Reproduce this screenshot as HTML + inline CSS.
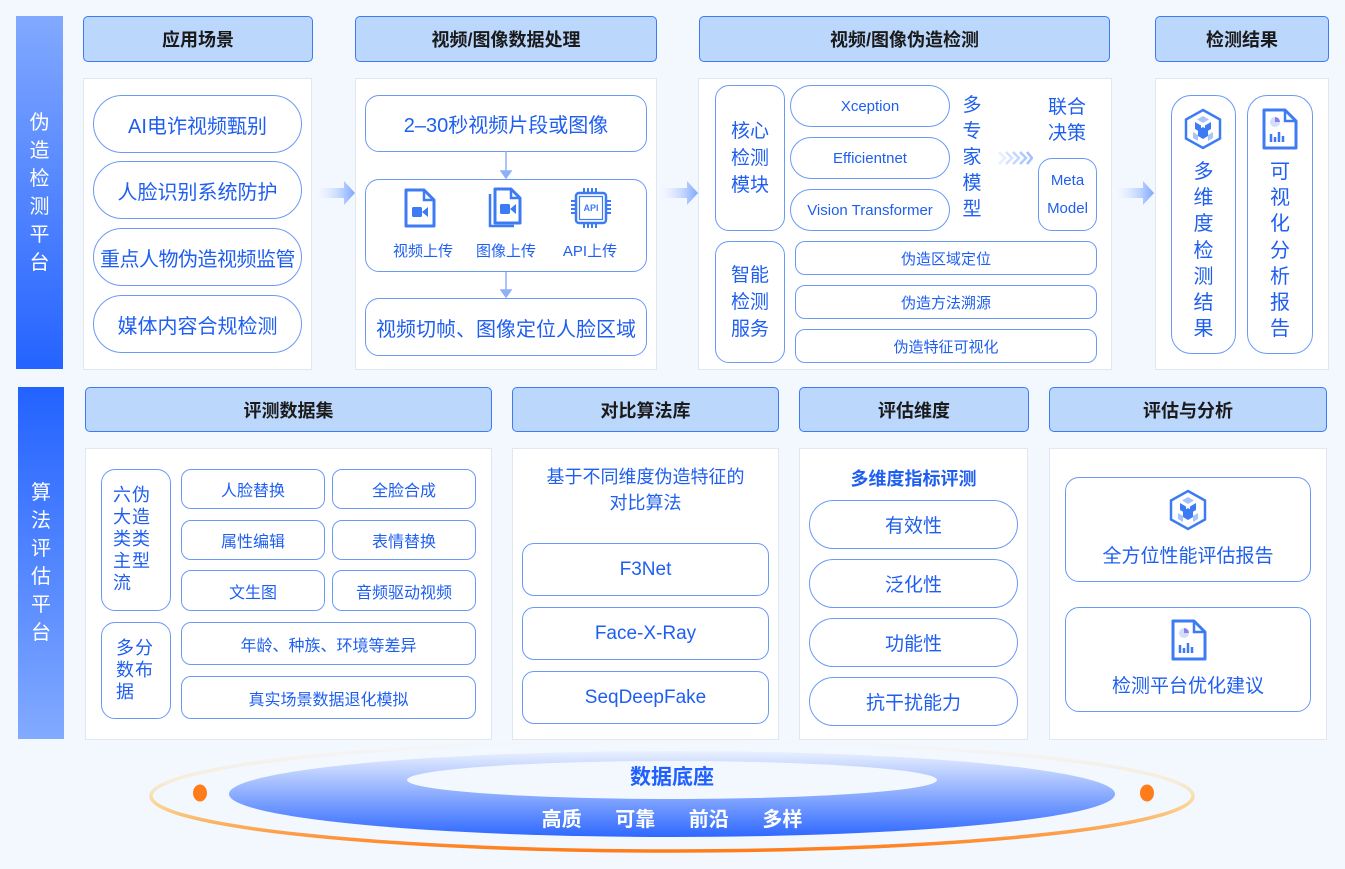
<!DOCTYPE html>
<html><head><meta charset="utf-8"><style>
body{margin:0;width:1345px;height:869px;background:#f3f7fe;position:relative;overflow:hidden;font-family:"Liberation Sans","Noto Sans CJK SC",sans-serif}
.a{position:absolute;box-sizing:border-box}
.c{display:flex;align-items:center;justify-content:center;text-align:center}
.h{background:#bcd7fc;border:1.5px solid #3d7bf5;border-radius:5px;font-weight:bold;font-size:18px;color:#1a1a1a}
.p{background:#fff;border:1px solid #e1e7f0}
.o{border:1.3px solid #6b9af5;color:#1f5ff0;background:#fff}
.vb{color:#fff;font-size:20px;line-height:28px;text-align:center}
</style></head><body>

<!-- left bars -->
<div class="a c" style="left:16px;top:16px;width:47px;height:353px;background:linear-gradient(#82a9ff,#2463ff)"><div class="vb">伪<br>造<br>检<br>测<br>平<br>台</div></div>
<div class="a c" style="left:18px;top:387px;width:46px;height:352px;background:linear-gradient(#2262ff,#82aaff)"><div class="vb">算<br>法<br>评<br>估<br>平<br>台</div></div>

<!-- top headers -->
<div class="a c h" style="left:83px;top:16px;width:230px;height:46px">应用场景</div>
<div class="a c h" style="left:355px;top:16px;width:302px;height:46px">视频/图像数据处理</div>
<div class="a c h" style="left:699px;top:16px;width:411px;height:46px">视频/图像伪造检测</div>
<div class="a c h" style="left:1155px;top:16px;width:174px;height:46px">检测结果</div>

<!-- top panels -->
<div class="a p" style="left:83px;top:78px;width:229px;height:292px"></div>
<div class="a p" style="left:355px;top:78px;width:302px;height:292px"></div>
<div class="a p" style="left:698px;top:78px;width:414px;height:292px"></div>
<div class="a p" style="left:1155px;top:78px;width:174px;height:292px"></div>

<!-- panel 1 -->
<div class="a c o" style="left:93px;top:95px;width:209px;height:58px;border-radius:29px;font-size:20px">AI电诈视频甄别</div>
<div class="a c o" style="left:93px;top:161px;width:209px;height:58px;border-radius:29px;font-size:20px">人脸识别系统防护</div>
<div class="a c o" style="left:93px;top:228px;width:209px;height:58px;border-radius:29px;font-size:20px;letter-spacing:-0.5px">重点人物伪造视频监管</div>
<div class="a c o" style="left:93px;top:295px;width:209px;height:58px;border-radius:29px;font-size:20px">媒体内容合规检测</div>

<!-- arrows between panels -->
<svg class="a" style="left:318px;top:180px" width="38" height="26"><defs><linearGradient id="ag" x1="0" x2="1"><stop offset="0" stop-color="#cfe0ff" stop-opacity="0"/><stop offset="1" stop-color="#7da6ff"/></linearGradient></defs><path d="M0 8h26V1l11 12-11 12v-7H0z" fill="url(#ag)"/></svg>
<svg class="a" style="left:661px;top:180px" width="38" height="26"><path d="M0 8h26V1l11 12-11 12v-7H0z" fill="url(#ag)"/></svg>
<svg class="a" style="left:1117px;top:180px" width="38" height="26"><path d="M0 8h26V1l11 12-11 12v-7H0z" fill="url(#ag)"/></svg>

<!-- panel 2 -->
<div class="a c o" style="left:365px;top:95px;width:282px;height:57px;border-radius:14px;font-size:20px">2–30秒视频片段或图像</div>
<svg class="a" style="left:500px;top:151px" width="12" height="148"><path d="M6 0v22M1 20l5 7 5-7z" stroke="#8db0f8" fill="#8db0f8" stroke-width="1.5"/><path d="M6 120v22M1 139l5 7 5-7z" stroke="#8db0f8" fill="#8db0f8" stroke-width="1.5"/></svg>
<div class="a o" style="left:365px;top:179px;width:282px;height:93px;border-radius:14px"></div>
<svg class="a" style="left:404px;top:188px" width="34" height="40"><path d="M2 2h18l10 10v26H2z" fill="#fff" stroke="#3d7bf5" stroke-width="3" stroke-linejoin="round"/><path d="M20 2v10h10" fill="none" stroke="#3d7bf5" stroke-width="2.5"/><rect x="8" y="19" width="10" height="10" rx="1.5" fill="#3d7bf5"/><path d="M18 24l6-5v10z" fill="#3d7bf5"/></svg>
<svg class="a" style="left:488px;top:187px" width="36" height="42"><path d="M2 7v32h24" fill="none" stroke="#3d7bf5" stroke-width="2.5"/><path d="M7 2h16l9 9v25H7z" fill="#fff" stroke="#3d7bf5" stroke-width="3" stroke-linejoin="round"/><path d="M23 2v9h9" fill="none" stroke="#3d7bf5" stroke-width="2.5"/><rect x="12" y="17" width="10" height="10" rx="1.5" fill="#3d7bf5"/><path d="M22 22l6-5v10z" fill="#3d7bf5"/></svg>
<svg class="a" style="left:570px;top:187px" width="42" height="42"><g stroke="#3d7bf5" stroke-width="2"><path d="M14 1v6M18 1v6M22 1v6M26 1v6M14 35v6M18 35v6M22 35v6M26 35v6M1 14h6M1 18h6M1 22h6M1 26h6M35 14h6M35 18h6M35 22h6M35 26h6"/></g><rect x="6" y="6" width="30" height="30" rx="3" fill="#fff" stroke="#3d7bf5" stroke-width="2.5"/><rect x="9.5" y="9.5" width="23" height="23" fill="none" stroke="#3d7bf5" stroke-width="1.2"/><text x="21" y="24" font-size="9" font-weight="bold" fill="#3d7bf5" text-anchor="middle" font-family="Liberation Sans">API</text></svg>
<div class="a" style="left:385px;top:240px;width:76px;text-align:center;font-size:15px;color:#1f5ff0">视频上传</div>
<div class="a" style="left:468px;top:240px;width:76px;text-align:center;font-size:15px;color:#1f5ff0">图像上传</div>
<div class="a" style="left:552px;top:240px;width:76px;text-align:center;font-size:15px;color:#1f5ff0">API上传</div>
<div class="a c o" style="left:365px;top:298px;width:282px;height:58px;border-radius:14px;font-size:20px">视频切帧、图像定位人脸区域</div>

<!-- panel 3 -->
<div class="a c o" style="left:715px;top:85px;width:70px;height:146px;border-radius:14px;font-size:19px;line-height:27px">核心<br>检测<br>模块</div>
<div class="a c o" style="left:790px;top:85px;width:160px;height:42px;border-radius:21px;font-size:15px">Xception</div>
<div class="a c o" style="left:790px;top:137px;width:160px;height:42px;border-radius:21px;font-size:15px">Efficientnet</div>
<div class="a c o" style="left:790px;top:189px;width:160px;height:42px;border-radius:21px;font-size:15px">Vision Transformer</div>
<div class="a" style="left:960px;top:93px;width:24px;font-size:19px;line-height:26px;color:#1f5ff0;text-align:center">多<br>专<br>家<br>模<br>型</div>
<svg class="a" style="left:997px;top:150px" width="36" height="16"><g fill="none" stroke-width="2.5"><path d="M2 2l6 6-6 6" stroke="#e6eeff"/><path d="M9 2l6 6-6 6" stroke="#d4e2ff"/><path d="M16 2l6 6-6 6" stroke="#c2d6fe"/><path d="M23 2l6 6-6 6" stroke="#b0cafd"/><path d="M30 2l5 6-5 6" stroke="#a2c0fc"/></g></svg>
<div class="a" style="left:1040px;top:95px;width:54px;font-size:19px;line-height:26px;color:#1f5ff0;text-align:center">联合<br>决策</div>
<div class="a c o" style="left:1038px;top:158px;width:59px;height:73px;border-radius:14px;font-size:15px;line-height:28px">Meta<br>Model</div>
<div class="a c o" style="left:715px;top:241px;width:70px;height:122px;border-radius:14px;font-size:19px;line-height:27px">智能<br>检测<br>服务</div>
<div class="a c o" style="left:795px;top:241px;width:302px;height:34px;border-radius:10px;font-size:15px">伪造区域定位</div>
<div class="a c o" style="left:795px;top:285px;width:302px;height:34px;border-radius:10px;font-size:15px">伪造方法溯源</div>
<div class="a c o" style="left:795px;top:329px;width:302px;height:34px;border-radius:10px;font-size:15px">伪造特征可视化</div>

<!-- panel 4 -->
<div class="a o" style="left:1171px;top:95px;width:65px;height:259px;border-radius:20px"></div>
<div class="a o" style="left:1247px;top:95px;width:66px;height:259px;border-radius:20px"></div>
<svg class="a" style="left:1183px;top:108px" width="40" height="42"><path d="M20 2l17 9.5v19L20 40 3 30.5v-19z" fill="#fff" stroke="#3d7bf5" stroke-width="2.5"/><path d="M20 8l6 3.5-6 3.5-6-3.5z" fill="#a9c4fb"/><path d="M12 14l6 3.5v7l-6-3.5z M28 14l-6 3.5v7l6-3.5z" fill="#3d7bf5"/><path d="M20 19l5 3v6l-5 3-5-3v-6z" fill="#3d7bf5"/><path d="M10 24l5 3v6l-5-3z M30 24l-5 3v6l5-3z" fill="#a9c4fb"/></svg>
<svg class="a" style="left:1262px;top:108px" width="36" height="42"><path d="M2 2h21l11 11v27H2z" fill="#fff" stroke="#3d7bf5" stroke-width="3" stroke-linejoin="round"/><path d="M23 2v11h11" fill="none" stroke="#3d7bf5" stroke-width="2.5"/><circle cx="13" cy="14" r="5" fill="#d3defc"/><path d="M13 14v-5a5 5 0 0 1 5 5z" fill="#8a7ff0"/><path d="M9 26v8M13 29v5M17 24v10M21 28v6" stroke="#3d7bf5" stroke-width="2.5"/></svg>
<div class="a" style="left:1171px;top:159px;width:65px;text-align:center;font-size:20px;line-height:26.2px;color:#1f5ff0">多<br>维<br>度<br>检<br>测<br>结<br>果</div>
<div class="a" style="left:1247px;top:159px;width:66px;text-align:center;font-size:20px;line-height:26.2px;color:#1f5ff0">可<br>视<br>化<br>分<br>析<br>报<br>告</div>

<!-- bottom headers -->
<div class="a c h" style="left:85px;top:387px;width:407px;height:45px">评测数据集</div>
<div class="a c h" style="left:512px;top:387px;width:267px;height:45px">对比算法库</div>
<div class="a c h" style="left:799px;top:387px;width:230px;height:45px">评估维度</div>
<div class="a c h" style="left:1049px;top:387px;width:278px;height:45px">评估与分析</div>

<div class="a p" style="left:85px;top:448px;width:407px;height:292px"></div>
<div class="a p" style="left:512px;top:448px;width:267px;height:292px"></div>
<div class="a p" style="left:799px;top:448px;width:229px;height:292px"></div>
<div class="a p" style="left:1049px;top:448px;width:278px;height:292px"></div>

<!-- bottom panel 1 -->
<div class="a o" style="left:101px;top:469px;width:70px;height:142px;border-radius:14px"></div>
<div class="a" style="left:113px;top:484px;width:50px;font-size:18px;line-height:22px;color:#1f5ff0;letter-spacing:1px">六伪<br>大造<br>类类<br>主型<br>流</div>
<div class="a o" style="left:101px;top:622px;width:70px;height:97px;border-radius:14px"></div>
<div class="a" style="left:116px;top:637px;width:50px;font-size:18px;line-height:22px;color:#1f5ff0;letter-spacing:1px">多分<br>数布<br>据</div>
<div class="a c o" style="left:181px;top:469px;width:144px;height:40px;border-radius:10px;font-size:16px">人脸替换</div>
<div class="a c o" style="left:332px;top:469px;width:144px;height:40px;border-radius:10px;font-size:16px">全脸合成</div>
<div class="a c o" style="left:181px;top:520px;width:144px;height:40px;border-radius:10px;font-size:16px">属性编辑</div>
<div class="a c o" style="left:332px;top:520px;width:144px;height:40px;border-radius:10px;font-size:16px">表情替换</div>
<div class="a c o" style="left:181px;top:570px;width:144px;height:41px;border-radius:10px;font-size:16px">文生图</div>
<div class="a c o" style="left:332px;top:570px;width:144px;height:41px;border-radius:10px;font-size:16px">音频驱动视频</div>
<div class="a c o" style="left:181px;top:622px;width:295px;height:43px;border-radius:10px;font-size:16px">年龄、种族、环境等差异</div>
<div class="a c o" style="left:181px;top:676px;width:295px;height:43px;border-radius:10px;font-size:16px">真实场景数据退化模拟</div>

<!-- bottom panel 2 -->
<div class="a" style="left:512px;top:464px;width:267px;text-align:center;font-size:18px;line-height:26px;color:#1f5ff0">基于不同维度伪造特征的<br>对比算法</div>
<div class="a c o" style="left:522px;top:543px;width:247px;height:53px;border-radius:12px;font-size:19px">F3Net</div>
<div class="a c o" style="left:522px;top:607px;width:247px;height:53px;border-radius:12px;font-size:19px">Face-X-Ray</div>
<div class="a c o" style="left:522px;top:671px;width:247px;height:53px;border-radius:12px;font-size:19px">SeqDeepFake</div>

<!-- bottom panel 3 -->
<div class="a" style="left:799px;top:465px;width:229px;text-align:center;font-size:18px;font-weight:bold;color:#1f5ff0">多维度指标评测</div>
<div class="a c o" style="left:809px;top:500px;width:209px;height:49px;border-radius:25px;font-size:19px">有效性</div>
<div class="a c o" style="left:809px;top:559px;width:209px;height:49px;border-radius:25px;font-size:19px">泛化性</div>
<div class="a c o" style="left:809px;top:618px;width:209px;height:49px;border-radius:25px;font-size:19px">功能性</div>
<div class="a c o" style="left:809px;top:677px;width:209px;height:49px;border-radius:25px;font-size:19px">抗干扰能力</div>

<!-- bottom panel 4 -->
<div class="a o" style="left:1065px;top:477px;width:246px;height:105px;border-radius:14px"></div>
<svg class="a" style="left:1168px;top:489px" width="40" height="42"><path d="M20 2l17 9.5v19L20 40 3 30.5v-19z" fill="#fff" stroke="#3d7bf5" stroke-width="2.5"/><path d="M20 8l6 3.5-6 3.5-6-3.5z" fill="#a9c4fb"/><path d="M12 14l6 3.5v7l-6-3.5z M28 14l-6 3.5v7l6-3.5z" fill="#3d7bf5"/><path d="M20 19l5 3v6l-5 3-5-3v-6z" fill="#3d7bf5"/><path d="M10 24l5 3v6l-5-3z M30 24l-5 3v6l5-3z" fill="#a9c4fb"/></svg>
<div class="a" style="left:1065px;top:541px;width:246px;text-align:center;font-size:19px;color:#1f5ff0">全方位性能评估报告</div>
<div class="a o" style="left:1065px;top:607px;width:246px;height:105px;border-radius:14px"></div>
<svg class="a" style="left:1171px;top:619px" width="36" height="42"><path d="M2 2h21l11 11v27H2z" fill="#fff" stroke="#3d7bf5" stroke-width="3" stroke-linejoin="round"/><path d="M23 2v11h11" fill="none" stroke="#3d7bf5" stroke-width="2.5"/><circle cx="13" cy="14" r="5" fill="#d3defc"/><path d="M13 14v-5a5 5 0 0 1 5 5z" fill="#8a7ff0"/><path d="M9 26v8M13 29v5M17 24v10M21 28v6" stroke="#3d7bf5" stroke-width="2.5"/></svg>
<div class="a" style="left:1065px;top:671px;width:246px;text-align:center;font-size:19px;color:#1f5ff0">检测平台优化建议</div>

<!-- base -->
<svg class="a" style="left:0;top:740px" width="1345" height="129">
<defs>
<linearGradient id="og" x1="0" y1="0" x2="0" y2="1"><stop offset="0" stop-color="#f8e3b8" stop-opacity="0"/><stop offset="0.35" stop-color="#f8e3b8" stop-opacity="0.5"/><stop offset="0.6" stop-color="#fbd08a"/><stop offset="1" stop-color="#ff7c1a"/></linearGradient>
<linearGradient id="bg" x1="0" y1="0" x2="0" y2="1"><stop offset="0" stop-color="#eaf1ff"/><stop offset="1" stop-color="#2e68ff"/></linearGradient>
</defs>
<ellipse cx="672" cy="56" rx="521" ry="55" fill="none" stroke="url(#og)" stroke-width="3.5"/>
<ellipse cx="672" cy="54" rx="443" ry="43" fill="url(#bg)"/>
<ellipse cx="672" cy="40" rx="265" ry="19" fill="#f3f7fe"/>
<ellipse cx="200" cy="53" rx="7" ry="8.5" fill="#ff7c1a"/>
<ellipse cx="1147" cy="53" rx="7" ry="8.5" fill="#ff7c1a"/>
<text x="672" y="44" text-anchor="middle" font-size="21" font-weight="bold" fill="#2060ff" font-family="Liberation Sans,Noto Sans CJK SC,sans-serif">数据底座</text>
<text x="672" y="86" text-anchor="middle" font-size="20" font-weight="bold" fill="#fff" font-family="Liberation Sans,Noto Sans CJK SC,sans-serif" word-spacing="28">高质 可靠 前沿 多样</text>
</svg>
</body></html>
